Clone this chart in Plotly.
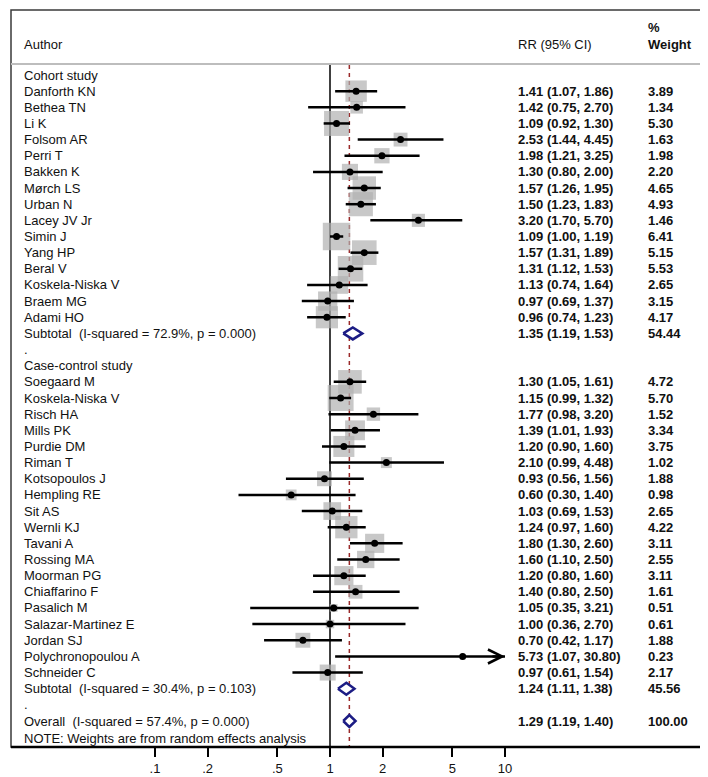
import math
import plotly.graph_objects as go

# ---------------- data ----------------
group_titles = ["Cohort study", "Case-control study"]

cohort_authors = ["Danforth KN", "Bethea TN", "Li K", "Folsom AR", "Perri T", "Bakken K",
                  "Mørch LS", "Urban N", "Lacey JV Jr", "Simin J", "Yang HP", "Beral V",
                  "Koskela-Niska V", "Braem MG", "Adami HO"]
cohort_rr = [1.41, 1.42, 1.09, 2.53, 1.98, 1.30, 1.57, 1.50, 3.20, 1.09, 1.57, 1.31, 1.13, 0.97, 0.96]
cohort_lo = [1.07, 0.75, 0.92, 1.44, 1.21, 0.80, 1.26, 1.23, 1.70, 1.00, 1.31, 1.12, 0.74, 0.69, 0.74]
cohort_hi = [1.86, 2.70, 1.30, 4.45, 3.25, 2.00, 1.95, 1.83, 5.70, 1.19, 1.89, 1.53, 1.64, 1.37, 1.23]
cohort_wt = [3.89, 1.34, 5.30, 1.63, 1.98, 2.20, 4.65, 4.93, 1.46, 6.41, 5.15, 5.53, 2.65, 3.15, 4.17]

case_authors = ["Soegaard M", "Koskela-Niska V", "Risch HA", "Mills PK", "Purdie DM", "Riman T",
                "Kotsopoulos J", "Hempling RE", "Sit AS", "Wernli KJ", "Tavani A", "Rossing MA",
                "Moorman PG", "Chiaffarino F", "Pasalich M", "Salazar-Martinez E", "Jordan SJ",
                "Polychronopoulou A", "Schneider C"]
case_rr = [1.30, 1.15, 1.77, 1.39, 1.20, 2.10, 0.93, 0.60, 1.03, 1.24, 1.80, 1.60, 1.20, 1.40, 1.05, 1.00, 0.70, 5.73, 0.97]
case_lo = [1.05, 0.99, 0.98, 1.01, 0.90, 0.99, 0.56, 0.30, 0.69, 0.97, 1.30, 1.10, 0.80, 0.80, 0.35, 0.36, 0.42, 1.07, 0.61]
case_hi = [1.61, 1.32, 3.20, 1.93, 1.60, 4.48, 1.56, 1.40, 1.53, 1.60, 2.60, 2.50, 1.60, 2.50, 3.21, 2.70, 1.17, 30.80, 1.54]
case_wt = [4.72, 5.70, 1.52, 3.34, 3.75, 1.02, 1.88, 0.98, 2.65, 4.22, 3.11, 2.55, 3.11, 1.61, 0.51, 0.61, 1.88, 0.23, 2.17]

sub_labels = ["Subtotal  (I-squared = 72.9%, p = 0.000)", "Subtotal  (I-squared = 30.4%, p = 0.103)"]
sub_rr = [1.35, 1.24]
sub_lo = [1.19, 1.11]
sub_hi = [1.53, 1.38]
sub_wt = [54.44, 45.56]

overall_label = "Overall  (I-squared = 57.4%, p = 0.000)"
overall_rr = 1.29
overall_lo = 1.19
overall_hi = 1.40
overall_wt = 100.00

note_text = "NOTE: Weights are from random effects analysis"
tick_vals = [0.1, 0.2, 0.5, 1, 2, 5, 10]
tick_text = [".1", ".2", ".5", "1", "2", "5", "10"]

# ---------------- layout constants ----------------
W, H = 708, 777
PLOT_BOTTOM = 739           # pixel of bottom of the plot area
ROW0 = 67                   # pixel of first row
ROW_H = 16.15               # row spacing
NOTE_PX = 730
X_ONE = 322                 # pixel of RR = 1
DECADE = 175                # pixels per decade
CLIP_MAX = 10               # CI clipping limit (arrow) = axis label range
FONT = "Liberation Sans, Arial, sans-serif"
TXT = "#111111"
BOX_K = 10.86               # box side (px) per sqrt(weight)

def px_x(p):
    return p / W

def row_px(p):
    return (p - ROW0) / ROW_H

# ---------------- build rows ----------------
studies = []   # (row, label, rr, lo, hi, wt)
labels = []    # (row, text)
pooled = []    # (row, rr, lo, hi, wt)
r = 0
groups = [(cohort_authors, cohort_rr, cohort_lo, cohort_hi, cohort_wt),
          (case_authors, case_rr, case_lo, case_hi, case_wt)]
for g, (au, rr, lo, hi, wt) in enumerate(groups):
    labels.append((r, group_titles[g]))
    r += 1
    for i in range(len(au)):
        studies.append((r, au[i], rr[i], lo[i], hi[i], wt[i]))
        labels.append((r, au[i]))
        r += 1
    labels.append((r, sub_labels[g].replace("  ", " \u00a0")))
    pooled.append((r, sub_rr[g], sub_lo[g], sub_hi[g], sub_wt[g]))
    r += 1
    labels.append((r, "."))
    r += 1
labels.append((r, overall_label.replace("  ", " \u00a0")))
pooled.append((r, overall_rr, overall_lo, overall_hi, overall_wt))
note_row = row_px(NOTE_PX)

fig = go.Figure()

top_row = row_px(57)
bottom_row = row_px(PLOT_BOTTOM)

# reference line at 1
fig.add_trace(go.Scatter(x=[1, 1], y=[top_row, bottom_row], mode="lines",
                         line=dict(color="black", width=1.5), hoverinfo="skip"))
# overall dashed line
fig.add_trace(go.Scatter(x=[overall_rr, overall_rr], y=[top_row, bottom_row], mode="lines",
                         line=dict(color="#9b2a2a", width=1.5, dash="4px,4px"), hoverinfo="skip"))

# boxes
fig.add_trace(go.Scatter(
    x=[s[2] for s in studies], y=[s[0] for s in studies], mode="markers",
    marker=dict(symbol="square", size=[BOX_K * math.sqrt(s[5]) for s in studies],
                color="#b0b0b0", line=dict(width=0)),
    hoverinfo="skip"))

# CI lines
cx, cy = [], []
arrow_rows = []
for s in studies:
    hi = s[4]
    if hi > CLIP_MAX:
        hi = CLIP_MAX
        arrow_rows.append(s[0])
    cx += [s[3], hi, None]
    cy += [s[0], s[0], None]
fig.add_trace(go.Scatter(x=cx, y=cy, mode="lines", line=dict(color="black", width=2.5),
                         hoverinfo="skip"))

# point estimates
fig.add_trace(go.Scatter(x=[s[2] for s in studies], y=[s[0] for s in studies], mode="markers",
                         marker=dict(symbol="circle", size=7, color="black"), hoverinfo="skip"))

# diamonds
HALF = 6.0 / ROW_H
for (rw, e, lo, hi, wt) in pooled:
    fig.add_trace(go.Scatter(x=[lo, e, hi, e, lo], y=[rw, rw - HALF, rw, rw + HALF, rw],
                             mode="lines", fill="toself", fillcolor="white",
                             line=dict(color="#1c1c84", width=2.5), hoverinfo="skip"))

annotations = []
# arrows for clipped CI
for rw in arrow_rows:
    annotations.append(dict(x=math.log10(CLIP_MAX), y=rw, xref="x", yref="y", ax=-14, ay=0,
                            showarrow=True, arrowhead=5, arrowsize=1.1, arrowwidth=2.5,
                            arrowcolor="black", text="", standoff=0))

def txt(x, y, t, bold=False, yref="y"):
    return dict(x=x, y=y, xref="paper", yref=yref, text=(f"<b>{t}</b>" if bold else t),
                showarrow=False, xanchor="left", yanchor="middle",
                font=dict(family=FONT, size=13, color=TXT))

for rw, t in labels:
    annotations.append(txt(px_x(14), rw, t))
annotations.append(txt(px_x(14), note_row, note_text))

for s in studies:
    annotations.append(txt(px_x(508), s[0], f"{s[2]:.2f} ({s[3]:.2f}, {s[4]:.2f})", bold=True))
    annotations.append(txt(px_x(638), s[0], f"{s[5]:.2f}", bold=True))
for (rw, e, lo, hi, wt) in pooled:
    annotations.append(txt(px_x(508), rw, f"{e:.2f} ({lo:.2f}, {hi:.2f})", bold=True))
    annotations.append(txt(px_x(638), rw, f"{wt:.2f}", bold=True))

# header
annotations.append(txt(px_x(14), row_px(36), "Author"))
annotations.append(txt(px_x(508), row_px(36), "RR (95% CI)"))
annotations.append(txt(px_x(638), row_px(19), "%", bold=True))
annotations.append(txt(px_x(638), row_px(36), "Weight", bold=True))

shapes = [
    # outer frame
    dict(type="rect", xref="paper", yref="paper", x0=px_x(3), x1=px_x(702),
         y0=0, y1=1 - 2 / PLOT_BOTTOM, line=dict(color="#3a3a3a", width=1.5)),
    # bottom axis line
    dict(type="line", xref="paper", yref="paper", x0=px_x(3), x1=px_x(702), y0=0, y1=0,
         line=dict(color="black", width=2.5)),
    # header separator
    dict(type="line", xref="paper", yref="paper", x0=px_x(3), x1=px_x(702),
         y0=1 - 56 / PLOT_BOTTOM, y1=1 - 56 / PLOT_BOTTOM, line=dict(color="#bdbdbd", width=2)),
]

fig.update_layout(
    width=W, height=H,
    margin=dict(l=0, r=0, t=0, b=H - PLOT_BOTTOM),
    paper_bgcolor="white", plot_bgcolor="white",
    showlegend=False,
    annotations=annotations,
    shapes=shapes,
    xaxis=dict(type="log", range=[-X_ONE / DECADE, (W - X_ONE) / DECADE],
               tickvals=tick_vals, ticktext=tick_text, ticks="outside", ticklen=9,
               tickwidth=2, tickcolor="black", showgrid=False, zeroline=False,
               showline=False, tickfont=dict(family=FONT, size=13, color=TXT),
               ticklabelstandoff=0, fixedrange=True),
    yaxis=dict(range=[bottom_row, row_px(0)], visible=False, showgrid=False,
               zeroline=False, fixedrange=True),
)

fig.write_html("out.html")
